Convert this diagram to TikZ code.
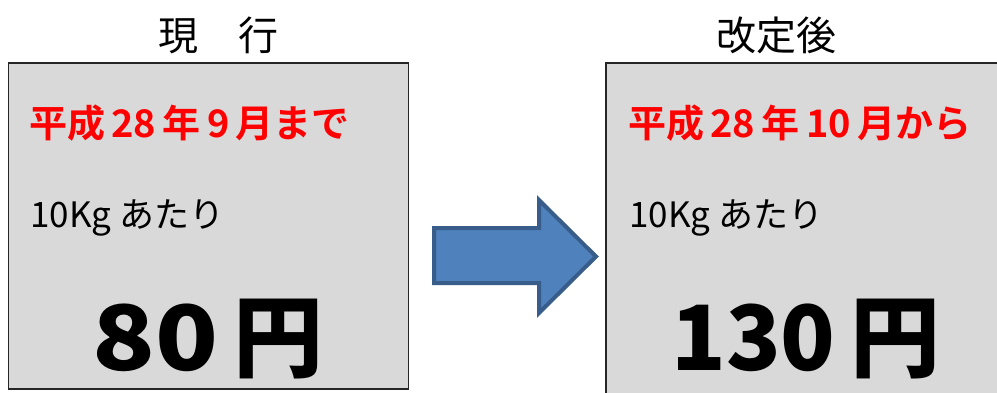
\documentclass[tikz,border=0pt]{standalone}
\usepackage{fontspec}
\newfontfamily\jpreg{Noto Sans CJK JP}
\newfontfamily\jpbold{Noto Sans CJK JP Bold}
\newfontfamily\jpblack{Noto Sans CJK JP Black}
\definecolor{boxgray}{HTML}{D9D9D9}
\definecolor{arrowfill}{HTML}{4F81BD}
\definecolor{arrowline}{HTML}{385D8A}
\tikzset{
  panel/.style={draw=black!85, line width=1.5pt, fill=boxgray},
  title/.style={font=\jpreg\fontsize{40}{44}\selectfont, inner sep=0pt},
  redline/.style={font=\jpbold\fontsize{38}{42}\selectfont, text=red, anchor=west, inner sep=0pt},
  unitline/.style={font=\jpreg\fontsize{35}{39}\selectfont, anchor=west, inner sep=0pt},
  price/.style={font=\jpblack\fontsize{90}{96}\selectfont, inner sep=0pt},
  bigarrow/.style={fill=arrowfill, draw=arrowline, line width=4pt, line join=miter}
}
\begin{document}
\begin{tikzpicture}[x=1pt,y=-1pt]
\useasboundingbox (0,0) rectangle (997,392);
% panels
\draw[panel] (8.5,63) rectangle (408.5,389);
\draw[panel] (606,63) rectangle (1010,400);
% titles
\node[title] (t1) at (218,35) {現　行};
\node[title] (t2) at (776,35) {改定後};
% left panel text
\node[redline] (r1) at (29,123) {平成\,28\,年\,9\,月まで};
\node[unitline] (u1) at (30,218) {10Kg あたり};
\node[price] (p1) at (208,339) {\scalebox{1.15}[1]{80}\,円};
% right panel text
\node[redline] (r2) at (628,123) {平成\,28\,年\,10\,月から};
\node[unitline] (u2) at (629,218) {10Kg あたり};
\node[price] (p2) at (806,339) {\scalebox{1.0}[1]{130}\,円};
% arrow
\draw[bigarrow] (434,228) -- (539,228) -- (539,200) -- (596,256.5) -- (539,313) -- (539,283) -- (434,283) -- cycle;
\end{tikzpicture}
\end{document}
